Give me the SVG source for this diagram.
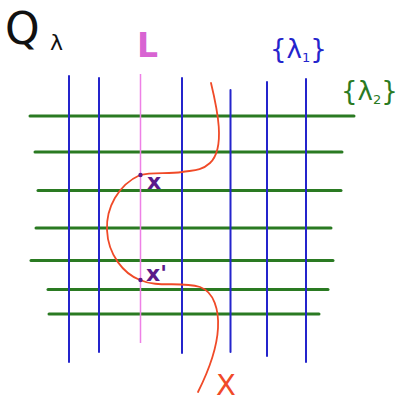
<svg xmlns="http://www.w3.org/2000/svg" width="398" height="403" viewBox="0 0 398 403">
<style>
.b{stroke:#2424cc;stroke-width:2;stroke-linecap:round;fill:none}
.g{stroke:#2a7a22;stroke-width:3;stroke-linecap:round;fill:none}
.p{stroke:#ee80e6;stroke-width:1.5;fill:none}
.r{stroke:#f04a28;stroke-width:1.8;fill:none;stroke-linecap:round}
.t{font-family:"DejaVu Sans",sans-serif}
</style>
<rect width="398" height="403" fill="#ffffff"/>
<g id="connectors">
<g id="green-lines">
<line class="g" x1="30" y1="116" x2="354" y2="116"/>
<line class="g" x1="35" y1="152" x2="342" y2="152"/>
<line class="g" x1="38" y1="190.5" x2="341" y2="190.5"/>
<line class="g" x1="36" y1="228" x2="331" y2="228"/>
<line class="g" x1="31" y1="260.5" x2="333" y2="260.5"/>
<line class="g" x1="48" y1="289.5" x2="328" y2="289.5"/>
<line class="g" x1="49" y1="314" x2="319" y2="314"/>
</g>
<g id="blue-lines">
<line class="b" x1="69" y1="76" x2="69" y2="362"/>
<line class="b" x1="99" y1="78" x2="99" y2="352"/>
<line class="b" x1="182" y1="78" x2="182" y2="353"/>
<line class="b" x1="230.5" y1="90" x2="230.5" y2="352"/>
<line class="b" x1="267" y1="82" x2="267" y2="356"/>
<line class="b" x1="306" y1="79" x2="306" y2="362"/>
</g>
<line id="L-line" class="p" x1="140.5" y1="74" x2="140.5" y2="343"/>
<path id="X-curve" class="r" d="M211,83 C217,108 226,148 210,163 C200,172 192,170 182,172 C168,174 152,172 140,175 C118,185 106,208 107,230 C108,255 124,274 140,280 C158,288 180,281 200,287 C214,292 219,310 218,328 C217,348 208,372 198,392"/>
</g>
<g id="points">
<circle cx="140.5" cy="175" r="2.2" fill="#5a1a8a"/>
<circle cx="140.5" cy="280" r="2.2" fill="#5a1a8a"/>
</g>
<g id="labels">
<text class="t" x="5" y="44" font-size="44" fill="#111">Q</text>
<text class="t" x="50" y="50" font-size="22" fill="#111">λ</text>
<text class="t" x="137" y="57" font-size="33" font-weight="bold" fill="#d864d2">L</text>
<text class="t" x="270" y="58" font-size="26" fill="#2424cc">{λ<tspan font-size="13" dy="4">1</tspan><tspan dy="-4">}</tspan></text>
<text class="t" x="341" y="100" font-size="26" fill="#2a7a22">{λ<tspan font-size="13" dy="4">2</tspan><tspan dy="-4">}</tspan></text>
<text class="t" x="147" y="189" font-size="22" font-weight="bold" fill="#5a1a8a">x</text>
<text class="t" x="146" y="281" font-size="22" font-weight="bold" fill="#5a1a8a">x'</text>
<text class="t" x="216" y="395" font-size="29" fill="#f04a28">X</text>
</g>
</svg>
